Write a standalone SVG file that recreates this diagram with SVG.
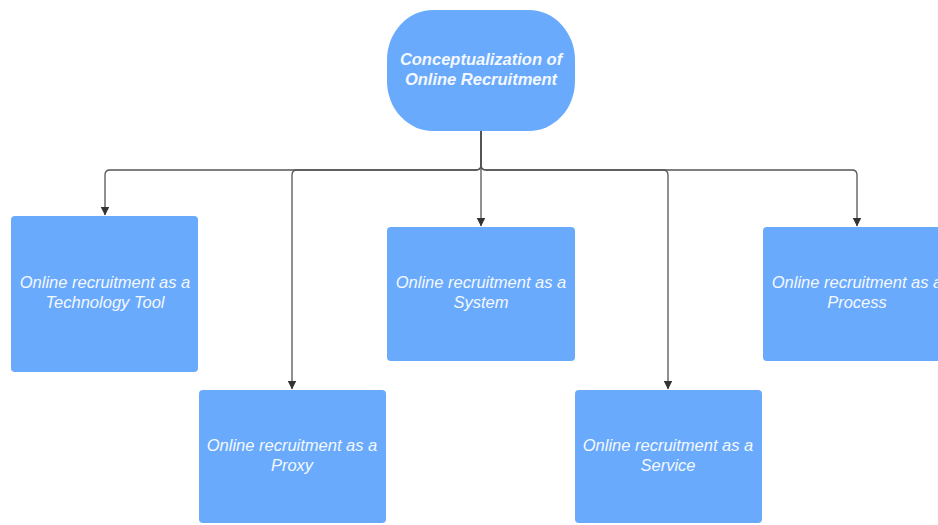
<svg xmlns="http://www.w3.org/2000/svg" width="938" height="525" viewBox="0 0 938 525">
<defs>
<style>
.box{fill:#69aafc;}
.t{font-family:"Liberation Sans",Arial,sans-serif;font-size:16.5px;font-style:italic;fill:#f4f8ff;text-anchor:middle;}
.title{font-weight:bold;}
.c{fill:none;stroke:#555;stroke-width:1.3;}
</style>
<marker id="ah" markerWidth="9" markerHeight="10" refX="8.5" refY="5" orient="auto" markerUnits="userSpaceOnUse">
<path d="M0,0.5 L9,5 L0,9.5 Z" fill="#333"/>
</marker>
</defs>
<rect width="938" height="525" fill="#fff"/>
<g id="connectors">
<path class="c" d="M481,131 V165 Q481,170 476,170 H110 Q105,170 105,175 V215" marker-end="url(#ah)"/>
<path class="c" d="M481,131 V165 Q481,170 476,170 H297 Q292,170 292,175 V389" marker-end="url(#ah)"/>
<path class="c" d="M481,131 V226" marker-end="url(#ah)"/>
<path class="c" d="M481,131 V165 Q481,170 486,170 H663 Q668,170 668,175 V389" marker-end="url(#ah)"/>
<path class="c" d="M481,131 V165 Q481,170 486,170 H852 Q857,170 857,175 V226" marker-end="url(#ah)"/>
</g>
<g id="root">
<rect class="box" x="387" y="10" width="188" height="121" rx="46" ry="50"/>
<text class="t title" x="481" y="65">Conceptualization of</text>
<text class="t title" x="481" y="85">Online Recruitment</text>
</g>
<g id="tech">
<rect class="box" x="11" y="216" width="187" height="156" rx="4"/>
<text class="t" x="105" y="288">Online recruitment as a</text>
<text class="t" x="105" y="308">Technology Tool</text>
</g>
<g id="system">
<rect class="box" x="387" y="227" width="188" height="134" rx="4"/>
<text class="t" x="481" y="288">Online recruitment as a</text>
<text class="t" x="481" y="308">System</text>
</g>
<g id="process">
<rect class="box" x="763" y="227" width="188" height="134" rx="4"/>
<text class="t" x="857" y="288">Online recruitment as a</text>
<text class="t" x="857" y="308">Process</text>
</g>
<g id="proxy">
<rect class="box" x="199" y="390" width="187" height="133" rx="4"/>
<text class="t" x="292" y="451">Online recruitment as a</text>
<text class="t" x="292" y="471">Proxy</text>
</g>
<g id="service">
<rect class="box" x="575" y="390" width="187" height="133" rx="4"/>
<text class="t" x="668" y="451">Online recruitment as a</text>
<text class="t" x="668" y="471">Service</text>
</g>
</svg>
